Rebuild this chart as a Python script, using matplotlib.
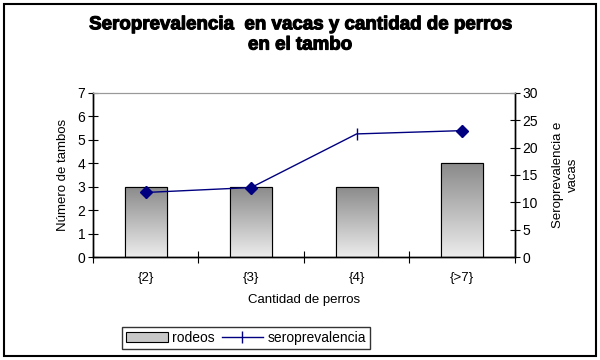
import matplotlib
matplotlib.use("Agg")
import matplotlib.pyplot as plt
import matplotlib.patheffects as pe
import numpy as np
from matplotlib.patches import Rectangle

plt.rcParams['font.family'] = ['Liberation Sans', 'DejaVu Sans']

categories = ["{2}", "{3}", "{4}", "{>7}"]
rodeos = [3, 3, 3, 4]
seroprevalencia = [11.8, 12.7, 22.5, 23.1]

fig = plt.figure(figsize=(6, 3.6), dpi=100)
ax = fig.add_axes([0.155, 0.286, 0.703, 0.456])
ax2 = ax.twinx()

x = np.arange(len(categories))
bars = ax.bar(x, rodeos, width=0.4, color='#c8c8c8', edgecolor='black', linewidth=0.8,
              label='rodeos', zorder=2)
grad = np.linspace(0, 1, 256).reshape(-1, 1)
cmap = matplotlib.colors.LinearSegmentedColormap.from_list('g', ['#ececec', '#8a8a8a'])
for b in bars:
    bx, by = b.get_x(), b.get_y()
    w, h = b.get_width(), b.get_height()
    im = ax.imshow(grad, cmap=cmap, extent=[bx, bx + w, by, by + h], origin='lower',
                   aspect='auto', zorder=2.1)
    im.set_clip_path(b)
    ax.add_patch(Rectangle((bx, by), w, h, fill=False, edgecolor='black', linewidth=0.8, zorder=2.2))

ax.set_xlim(-0.5, len(categories) - 0.5)
ax.set_ylim(0, 7)
ax.set_yticks(range(0, 8))
ax.set_xticks(x)
ax.set_xticklabels(categories)
ax.set_xticks(np.arange(-0.5, len(categories)), minor=True)
ax.tick_params(axis='x', which='major', length=0, pad=11, labelsize=9.5)
ax.tick_params(axis='x', which='minor', length=8, direction='inout', width=0.8)
ax.tick_params(axis='y', direction='inout', length=7, width=0.8, labelsize=10, pad=2)
ax.set_xlabel("Cantidad de perros", fontsize=9.5, labelpad=7)
ax.set_ylabel("Número de tambos", fontsize=9.5, labelpad=6)

line, = ax2.plot(x, seroprevalencia, color='#000080', linewidth=1, marker='|', markersize=9,
                 markeredgewidth=1, label='seroprevalencia', zorder=3)
idx = [0, 1, 3]
ax2.plot([x[i] for i in idx], [seroprevalencia[i] for i in idx], linestyle='none', marker='D',
         markersize=6, color='#000080', zorder=4)
ax2.set_ylim(0, 30)
ax2.set_yticks(range(0, 31, 5))
ax2.tick_params(axis='y', direction='inout', length=7, width=0.8, labelsize=10, pad=2)
ax2.set_ylabel("Seroprevalencia e\nvacas", fontsize=9.5, linespacing=1.35, labelpad=10)

for a in (ax, ax2):
    a.spines['top'].set_color('#999999')
    a.spines['left'].set_linewidth(1)
    a.spines['right'].set_linewidth(1)
    a.spines['bottom'].set_linewidth(1)
ax2.set_zorder(ax.get_zorder() + 1)
ax2.patch.set_visible(False)

fig.text(0.5, 0.903, "Seroprevalencia  en vacas y cantidad de perros\nen el tambo",
         ha='center', va='center', fontsize=13.5, fontweight='bold', linespacing=1.25,
         path_effects=[pe.withStroke(linewidth=0.8, foreground='black')])

leg = fig.legend([bars, line], ['rodeos', 'seroprevalencia'], loc='center',
                 bbox_to_anchor=(0.41, 0.061), ncol=2, frameon=True, fancybox=False,
                 edgecolor='black', fontsize=10, handlelength=3, handletextpad=0.3,
                 columnspacing=0.5, borderpad=0.3)
leg.get_frame().set_linewidth(1)

fig.patches.append(Rectangle((0.006, 0.012), 0.988, 0.976, transform=fig.transFigure,
                             fill=False, edgecolor='black', linewidth=1.5))

fig.savefig("out.png", dpi=100)
